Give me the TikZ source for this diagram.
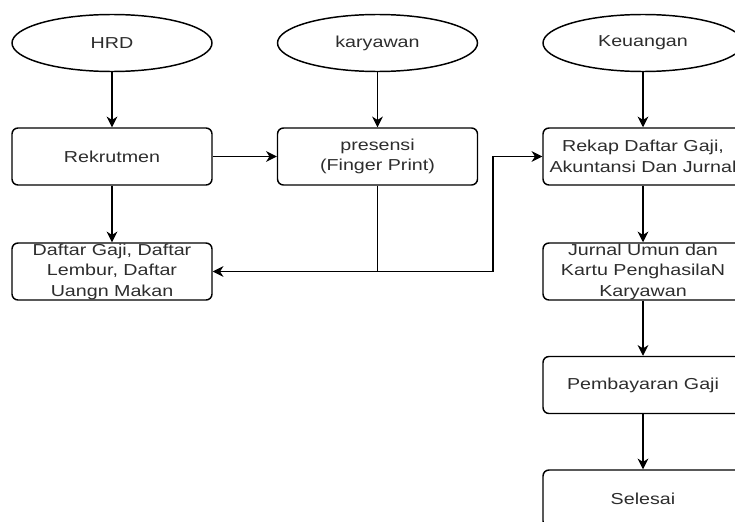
\documentclass[tikz,border=0pt]{standalone}
\usepackage{fontspec}
\setmainfont[FakeStretch=1.24]{Liberation Sans}
\usetikzlibrary{arrows.meta,shapes.geometric}
\definecolor{txt}{RGB}{45,45,45}
\begin{document}
\begin{tikzpicture}[x=0.75pt,y=-0.75pt,
  base/.style={font=\fontsize{11.9pt}{15.4pt}\selectfont, text=txt, align=center, line width=1.1pt, draw=black, inner sep=0pt, minimum width=150pt, minimum height=42.75pt},
  box/.style={base, rectangle, rounded corners=4.5pt},
  oval/.style={base, ellipse},
  arr/.style={-{Stealth[length=8pt,width=8pt,inset=2.5pt]}, line width=1.1pt}]
\useasboundingbox (0,0) rectangle (735,521);
\clip (0,0) rectangle (735,521);
\node[oval] (hrd) at (112,43) {HRD};
\node[oval] (kary) at (377.5,43) {karyawan};
\node[oval] (keu) at (643,43) {Keuangan};
\node[box] (rek) at (112,156.5) {Rekrutmen};
\node[box] (pres) at (377.5,156.5) {presensi\\(Finger Print)};
\node[box] (rekap) at (643,156.5) {Rekap Daftar Gaji,\\Akuntansi Dan Jurnal};
\node[box] (daftar) at (112,271.5) {Daftar Gaji, Daftar\\Lembur, Daftar\\Uangn Makan};
\node[box] (jurnal) at (643,271.5) {Jurnal Umun dan\\Kartu PenghasilaN\\Karyawan};
\node[box] (bayar) at (643,385) {Pembayaran Gaji};
\node[box] (selesai) at (643,498.5) {Selesai};
\coordinate (j) at (493,271.5);
\draw[arr] (hrd) -- (rek);
\draw[arr] (kary) -- (pres);
\draw[arr] (keu) -- (rekap);
\draw[arr] (rek) -- (daftar);
\draw[arr] (rek) -- (pres);
\draw[arr] (pres.south) |- (daftar.east);
\draw[arr] (pres.south) |- (j) |- (rekap.west);
\draw[arr] (rekap) -- (jurnal);
\draw[arr] (jurnal) -- (bayar);
\draw[arr] (bayar) -- (selesai);
\end{tikzpicture}
\end{document}
